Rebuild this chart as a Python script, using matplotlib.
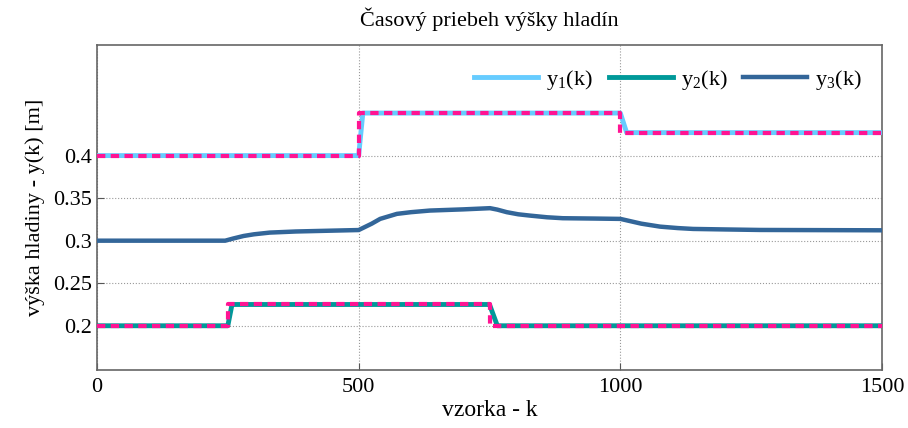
import matplotlib
matplotlib.use("Agg")
import matplotlib.pyplot as plt

########################################################################
# Data
########################################################################
# reference signals (step, magenta dashed)
k_w1 = [0, 500, 1000, 1500]
w1 = [0.40, 0.45, 0.427, 0.427]
k_w2 = [0, 250, 750, 1500]
w2 = [0.20, 0.225, 0.20, 0.20]

# measured levels
k_y1 = [0, 500, 508, 1000, 1012, 1500]
y1 = [0.40, 0.40, 0.45, 0.45, 0.427, 0.427]

k_y2 = [0, 250, 258, 750, 765, 1500]
y2 = [0.20, 0.20, 0.225, 0.225, 0.20, 0.20]

k_y3 = [0, 245, 260, 280, 300, 330, 380, 450, 500,
        510, 525, 541, 573, 600, 636, 700, 751,
        765, 783, 805, 827, 860, 890, 950, 1000,
        1015, 1040, 1076, 1110, 1139, 1200, 1267, 1500]
y3 = [0.300, 0.300, 0.3025, 0.3055, 0.3075, 0.3095, 0.3108, 0.3118, 0.3125,
      0.3155, 0.320, 0.3256, 0.3315, 0.3335, 0.3354, 0.3368, 0.3382,
      0.3365, 0.3335, 0.331, 0.3295, 0.3275, 0.3264, 0.326, 0.3256,
      0.3235, 0.320, 0.3165, 0.3148, 0.3138, 0.3132, 0.3126, 0.3122]

xticks = [0, 500, 1000, 1500]
yticks = [0.2, 0.25, 0.3, 0.35, 0.4]
ytick_labels = ["0.2", "0.25", "0.3", "0.35", "0.4"]

########################################################################
# Plot
########################################################################
plt.rcParams["font.family"] = ["Liberation Serif", "DejaVu Serif"]
plt.rcParams["mathtext.fontset"] = "custom"
plt.rcParams["mathtext.rm"] = "Liberation Serif"

fig = plt.figure(figsize=(9.08, 4.28), dpi=100)
ax = fig.add_axes([0.1068, 0.1355, 0.8646, 0.7594])

ax.plot(k_y1, y1, color="#66ccff", lw=3.5, label="y$_\\mathregular{1}$(k)", zorder=3)
ax.plot(k_y2, y2, color="#009999", lw=3.5, label="y$_\\mathregular{2}$(k)", zorder=3)
ax.plot(k_y3, y3, color="#336699", lw=3.2, label="y$_\\mathregular{3}$(k)", zorder=3)

ax.plot(k_w1, w1, color="#ff1493", lw=3, ls=(0, (2, 1.3)), drawstyle="steps-post", zorder=4)
ax.plot(k_w2, w2, color="#ff1493", lw=3, ls=(0, (2, 1.3)), drawstyle="steps-post", zorder=4)

ax.set_xlim(0, 1500)
ax.set_ylim(0.148, 0.53)
ax.set_xticks(xticks)
ax.set_yticks(yticks)
ax.set_yticklabels(ytick_labels)
ax.tick_params(direction="in", labelsize=16, length=5, color="#555555")
ax.tick_params(axis="x", pad=6)
ax.grid(True, ls=":", color="#999999", lw=0.8)
for s in ax.spines.values():
    s.set_color("#666666")
    s.set_linewidth(1.2)

ax.set_title("Časový priebeh výšky hladín", fontsize=16, pad=14)
ax.set_xlabel("vzorka - k", fontsize=17, labelpad=2)
ax.set_ylabel("výška hladiny - y(k) [m]", fontsize=16, labelpad=6)

ax.legend(loc="upper right", ncol=3, frameon=False, fontsize=16,
          handlelength=2.9, handletextpad=0.35, columnspacing=0.7,
          bbox_to_anchor=(1.0, 0.99))

fig.savefig("out.png", dpi=100)
